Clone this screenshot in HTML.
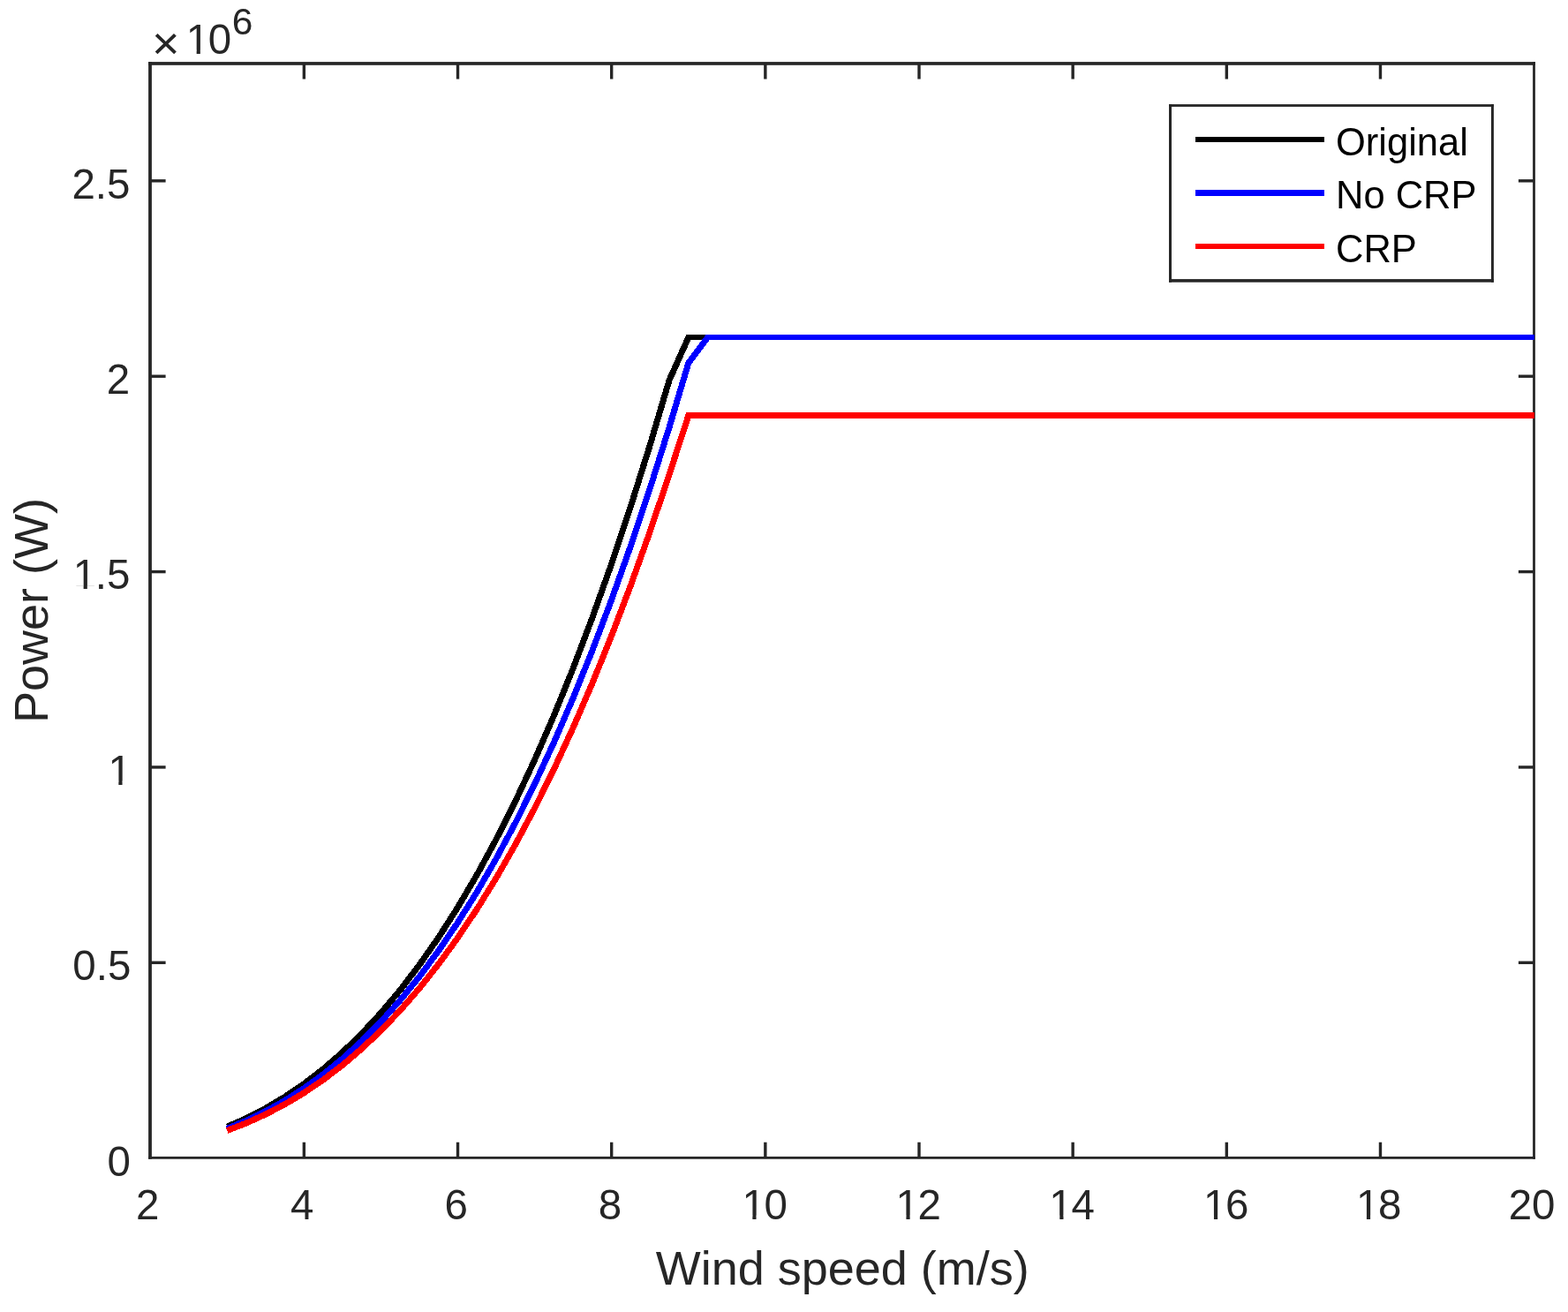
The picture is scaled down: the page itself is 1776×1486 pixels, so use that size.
<!DOCTYPE html>
<html lang="en">
<head>
<meta charset="utf-8">
<title>Wind speed vs Power</title>
<style>
html, body { margin: 0; padding: 0; background: #ffffff; }
body { width: 1776px; height: 1486px; overflow: hidden; }
svg { display: block; }
text { font-family: "Liberation Sans", Arial, sans-serif; }
</style>
</head>
<body>
<svg width="1776" height="1486" viewBox="0 0 1776 1486">
<rect x="0" y="0" width="1776" height="1486" fill="#ffffff"/>
<g fill="#262626">
<rect x="168.1" y="70.1" width="3.8" height="1242.65"/>
<rect x="1736.1" y="70.1" width="2.8" height="1242.65"/>
<rect x="168.1" y="70.1" width="1570.8" height="3.7"/>
<rect x="168.1" y="1309.95" width="1570.8" height="2.8"/>
<rect x="342.66" y="1293.75" width="3.4" height="17.6"/>
<rect x="342.66" y="71.95" width="3.4" height="17.6"/>
<rect x="516.82" y="1293.75" width="3.4" height="17.6"/>
<rect x="516.82" y="71.95" width="3.4" height="17.6"/>
<rect x="690.98" y="1293.75" width="3.4" height="17.6"/>
<rect x="690.98" y="71.95" width="3.4" height="17.6"/>
<rect x="865.14" y="1293.75" width="3.4" height="17.6"/>
<rect x="865.14" y="71.95" width="3.4" height="17.6"/>
<rect x="1039.3" y="1293.75" width="3.4" height="17.6"/>
<rect x="1039.3" y="71.95" width="3.4" height="17.6"/>
<rect x="1213.46" y="1293.75" width="3.4" height="17.6"/>
<rect x="1213.46" y="71.95" width="3.4" height="17.6"/>
<rect x="1387.62" y="1293.75" width="3.4" height="17.6"/>
<rect x="1387.62" y="71.95" width="3.4" height="17.6"/>
<rect x="1561.78" y="1293.75" width="3.4" height="17.6"/>
<rect x="1561.78" y="71.95" width="3.4" height="17.6"/>
<rect x="170" y="1088.62" width="17.6" height="3.4"/>
<rect x="1719.9" y="1088.62" width="17.6" height="3.4"/>
<rect x="170" y="867.25" width="17.6" height="3.4"/>
<rect x="1719.9" y="867.25" width="17.6" height="3.4"/>
<rect x="170" y="645.88" width="17.6" height="3.4"/>
<rect x="1719.9" y="645.88" width="17.6" height="3.4"/>
<rect x="170" y="424.5" width="17.6" height="3.4"/>
<rect x="1719.9" y="424.5" width="17.6" height="3.4"/>
<rect x="170" y="203.13" width="17.6" height="3.4"/>
<rect x="1719.9" y="203.13" width="17.6" height="3.4"/>
</g>
<g fill="none" stroke-linejoin="miter" stroke-miterlimit="10" stroke-linecap="butt" shape-rendering="crispEdges">
<path d="M257.28 1276.2 L279.05 1266.56 L300.82 1255.32 L322.59 1242.36 L344.36 1227.54 L366.13 1210.76 L387.9 1191.87 L409.67 1170.77 L431.44 1147.33 L453.21 1121.42 L474.98 1092.92 L496.75 1061.71 L518.52 1027.67 L540.29 990.66 L562.06 950.58 L583.83 907.29 L605.6 860.67 L627.37 810.59 L649.14 756.95 L670.91 699.6 L692.68 638.44 L714.45 573.33 L736.22 504.15 L757.99 430.77 L779.76 382.17 L780.36 382.17" stroke="#000000" stroke-width="7.0"/>
<path d="M779.76 381.92 L1738.19 381.92" stroke="#000000" stroke-width="6.5"/>
<path d="M257.28 1278.35 L279.05 1269.3 L300.82 1258.74 L322.59 1246.56 L344.36 1232.64 L366.13 1216.87 L387.9 1199.14 L409.67 1179.31 L431.44 1157.29 L453.21 1132.95 L474.98 1106.18 L496.75 1076.86 L518.52 1044.88 L540.29 1010.12 L562.06 972.46 L583.83 931.8 L605.6 888 L627.37 840.96 L649.14 790.57 L670.91 736.7 L692.68 679.24 L714.45 618.08 L736.22 553.09 L757.99 484.16 L779.76 411.19 L801.53 382.17 L802.13 382.17" stroke="#0000ff" stroke-width="7.0"/>
<path d="M801.53 381.92 L1738.19 381.92" stroke="#0000ff" stroke-width="6.5"/>
<path d="M257.28 1280.5 L279.05 1272.03 L300.82 1262.15 L322.59 1250.76 L344.36 1237.74 L366.13 1222.99 L387.9 1206.4 L409.67 1187.85 L431.44 1167.25 L453.21 1144.48 L474.98 1119.44 L496.75 1092.01 L518.52 1062.1 L540.29 1029.58 L562.06 994.35 L583.83 956.31 L605.6 915.34 L627.37 871.33 L649.14 824.19 L670.91 773.8 L692.68 720.04 L714.45 662.83 L736.22 602.03 L757.99 537.55 L779.76 470.73 L780.36 470.73" stroke="#ff0000" stroke-width="7.0"/>
<path d="M779.76 470.48 L1738.19 470.48" stroke="#ff0000" stroke-width="6.5"/>
</g>
<g font-family="Liberation Sans, Arial, sans-serif" fill="#262626">
<g transform="translate(167.3 1380.8) scale(1 1.03)"><text x="-13.21" y="0" font-size="47.5" fill="#262626">2</text></g>
<g transform="translate(342.11 1380.8) scale(1 1.03)"><text x="-13.21" y="0" font-size="47.5" fill="#262626">4</text></g>
<g transform="translate(516.72 1380.8) scale(1 1.03)"><text x="-13.21" y="0" font-size="47.5" fill="#262626">6</text></g>
<g transform="translate(691.08 1380.8) scale(1 1.03)"><text x="-13.21" y="0" font-size="47.5" fill="#262626">8</text></g>
<g transform="translate(865.5 1380.8) scale(1 1.03)"><text x="-26.42" y="0" dx="1.3 -1.3" font-size="47.5" fill="#262626">10</text><rect x="-22.44" y="-4" width="9.27" height="4.75" fill="#ffffff"/><rect x="-8.97" y="-4" width="8.69" height="4.75" fill="#ffffff"/></g>
<g transform="translate(1039.6 1380.8) scale(1 1.03)"><text x="-26.42" y="0" dx="1.3 -1.3" font-size="47.5" fill="#262626">12</text><rect x="-22.44" y="-4" width="9.27" height="4.75" fill="#ffffff"/><rect x="-8.97" y="-4" width="8.69" height="4.75" fill="#ffffff"/></g>
<g transform="translate(1213.46 1380.8) scale(1 1.03)"><text x="-26.42" y="0" dx="1.3 -1.3" font-size="47.5" fill="#262626">14</text><rect x="-22.44" y="-4" width="9.27" height="4.75" fill="#ffffff"/><rect x="-8.97" y="-4" width="8.69" height="4.75" fill="#ffffff"/></g>
<g transform="translate(1388.12 1380.8) scale(1 1.03)"><text x="-26.42" y="0" dx="1.3 -1.3" font-size="47.5" fill="#262626">16</text><rect x="-22.44" y="-4" width="9.27" height="4.75" fill="#ffffff"/><rect x="-8.97" y="-4" width="8.69" height="4.75" fill="#ffffff"/></g>
<g transform="translate(1561.08 1380.8) scale(1 1.03)"><text x="-26.42" y="0" dx="1.3 -1.3" font-size="47.5" fill="#262626">18</text><rect x="-22.44" y="-4" width="9.27" height="4.75" fill="#ffffff"/><rect x="-8.97" y="-4" width="8.69" height="4.75" fill="#ffffff"/></g>
<g transform="translate(1735.09 1380.8) scale(1 1.03)"><text x="-26.42" y="0" font-size="47.5" fill="#262626">20</text></g>
<g transform="translate(148 1331.5) scale(1 1.03)"><text x="-26.42" y="0" font-size="47.5" fill="#262626">0</text></g>
<g transform="translate(148.3 1110.12) scale(1 1.03)"><text x="-66.03" y="0" font-size="47.5" fill="#262626">0.5</text></g>
<g transform="translate(147.5 888.75) scale(1 1.03)"><text x="-26.42" y="0" dx="1.3" font-size="47.5" fill="#262626">1</text><rect x="-22.44" y="-4" width="9.27" height="4.75" fill="#ffffff"/><rect x="-8.97" y="-4" width="8.69" height="4.75" fill="#ffffff"/></g>
<g transform="translate(147.4 667.38) scale(1 1.03)"><text x="-66.03" y="0" dx="1.3 -1.3 0" font-size="47.5" fill="#262626">1.5</text><rect x="-62.05" y="-4" width="9.27" height="4.75" fill="#ffffff"/><rect x="-48.59" y="-4" width="8.69" height="4.75" fill="#ffffff"/></g>
<g transform="translate(147.2 446) scale(1 1.03)"><text x="-26.42" y="0" font-size="47.5" fill="#262626">2</text></g>
<g transform="translate(147.4 224.63) scale(1 1.03)"><text x="-66.03" y="0" font-size="47.5" fill="#262626">2.5</text></g>
<text transform="translate(172 67) scale(1 0.95)" font-size="54">×</text>
<g transform="translate(209.4 60.8) scale(1 1.03)"><text x="0" y="0" dx="1.3 -1.3" font-size="47.5" fill="#262626">10</text><rect x="3.98" y="-4" width="9.27" height="4.75" fill="#ffffff"/><rect x="17.44" y="-4" width="8.69" height="4.75" fill="#ffffff"/></g>
<text x="262.8" y="38.8" font-size="42.5">6</text>
<text x="954.25" y="1455.2" font-size="54" text-anchor="middle">Wind speed (m/s)</text>
<text transform="translate(54.3 691.6) rotate(-90)" font-size="54" text-anchor="middle">Power (W)</text>
</g>
<rect x="1324" y="118.1" width="367.9" height="201.6" fill="#ffffff"/>
<g fill="#262626">
<rect x="1324" y="118.1" width="367.9" height="2.8"/>
<rect x="1324" y="316.1" width="367.9" height="3.6"/>
<rect x="1324" y="118.1" width="3.0" height="201.6"/>
<rect x="1688.95" y="118.1" width="2.95" height="201.6"/>
</g>
<rect x="1354" y="155" width="146" height="6" fill="#000000"/>
<rect x="1354" y="215" width="146" height="7" fill="#0000ff"/>
<rect x="1354" y="276" width="146" height="6" fill="#ff0000"/>
<g font-family="Liberation Sans, Arial, sans-serif" font-size="43.5" fill="#000000">
<text x="1513" y="175.8">Original</text>
<text x="1513" y="236.1">No CRP</text>
<text x="1513" y="296.8">CRP</text>
</g>
</svg>
</body>
</html>
